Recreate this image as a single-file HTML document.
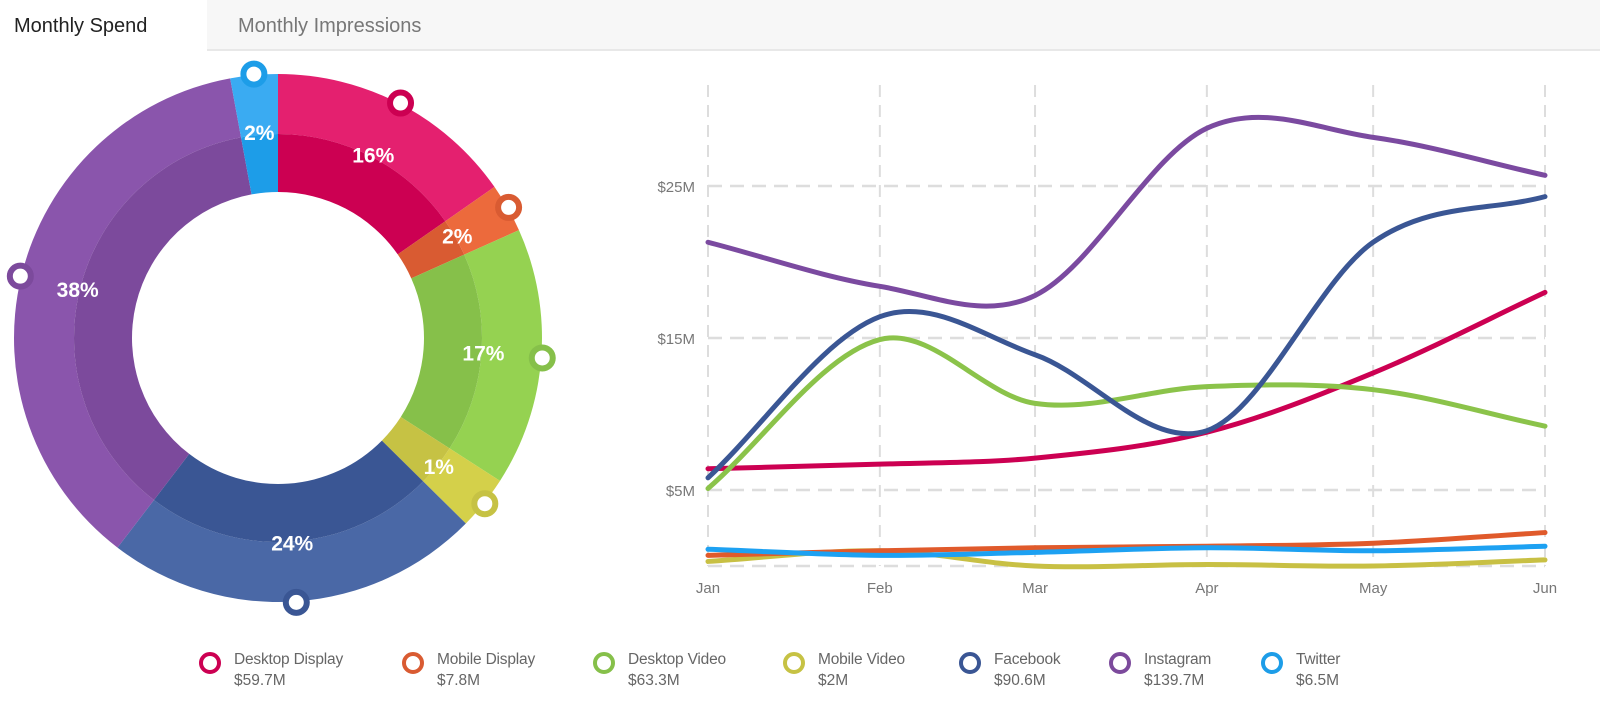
<!DOCTYPE html>
<html><head><meta charset="utf-8">
<style>
body{margin:0;width:1600px;height:728px;background:#fff;font-family:"Liberation Sans",sans-serif;overflow:hidden;position:relative}
.tabs{position:absolute;left:0;top:0;width:1600px;height:51px;background:#f7f7f7;border-bottom:2px solid #e8e8e8;box-sizing:border-box}
.tab{position:absolute;top:0;height:51px;line-height:52px;font-size:20px}
.legend{position:absolute;top:650px;left:0}
.li{position:absolute;top:0;white-space:nowrap}
.li .dot{position:absolute;left:-11px;top:2px;width:14px;height:14px;border-radius:50%;border:4px solid}
.li .nm{position:absolute;left:24px;top:1px;font-size:15.5px;color:#666;letter-spacing:-0.2px}
.li .vl{position:absolute;left:24px;top:22px;font-size:15.5px;color:#666}
</style></head><body>
<div class="tabs">
 <div class="tab" style="left:0;width:207px;background:#fff;color:#222;padding-left:14px;box-sizing:border-box;height:53px">Monthly Spend</div>
 <div class="tab" style="left:238px;color:#777">Monthly Impressions</div>
</div>
<svg id="donut" width="600" height="640" style="position:absolute;left:0;top:0"></svg>
<svg id="line" width="1600" height="640" style="position:absolute;left:0;top:0"></svg>
<div class="legend" id="legend"></div>
<script>
const names=["Desktop Display","Mobile Display","Desktop Video","Mobile Video","Facebook","Instagram","Twitter"];
const totalLabels=["$59.7M","$7.8M","$63.3M","$2M","$90.6M","$139.7M","$6.5M"];
const sliceShares=[15.3,3,15.8,3.3,23,36.7,2.9];
const pctLabels=["16%","2%","17%","1%","24%","38%","2%"];
const months=["Jan","Feb","Mar","Apr","May","Jun"];
const monthDays=[0,31,59,90,120,151];
const yTicks=[5,15,25];
const sDD=[6.4,6.7,7.1,8.8,12.7,18.0];
const sMD=[0.7,1.0,1.2,1.3,1.5,2.2];
const sDV=[5.1,14.9,10.7,11.8,11.6,9.2];
const sMV=[0.3,1.0,0.0,0.1,0.0,0.4];
const sFB=[5.8,16.4,13.9,8.9,21.3,24.3];
const sIG=[21.3,18.4,17.8,28.8,28.2,25.7];
const sTW=[1.1,0.7,0.9,1.2,1.0,1.3];
const series=[sDD,sMD,sDV,sMV,sFB,sIG,sTW];
const outerC=["#e4206f","#ec6a3c","#95d251","#d4d04a","#4a68a6","#8a55ac","#3aabf2"];
const innerC=["#cc0052","#d95b32","#86c04a","#c6c244","#3a5694","#7c4a9c","#1d9de8"];
const lineC=["#cc0052","#e05a2b","#8bc34a","#c8c044","#3a5694","#7b4aa0","#1da1f2"];
const NS="http://www.w3.org/2000/svg";
function mk(p,t,a){const e=document.createElementNS(NS,t);for(const k in a)e.setAttribute(k,a[k]);p.appendChild(e);return e;}
const d=document.getElementById('donut');
const cx=278,cy=338,R0=146,R1=204,R2=264;
const sum=sliceShares.reduce((a,b)=>a+b,0);
function pt(r,a){return [cx+r*Math.sin(a),cy-r*Math.cos(a)];}
function arc(r1,r2,a0,a1){const l=a1-a0>Math.PI?1:0;const p1=pt(r2,a0),p2=pt(r2,a1),p3=pt(r1,a1),p4=pt(r1,a0);
return `M${p1}A${r2},${r2} 0 ${l} 1 ${p2}L${p3}A${r1},${r1} 0 ${l} 0 ${p4}Z`;}
let acc=0;const mids=[];
sliceShares.forEach((v,i)=>{const a0=acc/sum*2*Math.PI;acc+=v;const a1=acc/sum*2*Math.PI;
 const o=mk(d,'path',{d:arc(R1,R2,a0,a1),fill:outerC[i]});
 
 
 const n=mk(d,'path',{d:arc(R0,R1,a0,a1),fill:innerC[i]});
 
 
 mids.push((a0+a1)/2);});
sliceShares.forEach((v,i)=>{const [x,y]=pt(206,mids[i]);
 const t=mk(d,'text',{x:x,y:y+7,'text-anchor':'middle','font-size':21,'font-weight':'bold',fill:'#fff','font-family':'Liberation Sans, sans-serif'});
 t.textContent=pctLabels[i];
 
 
 const [mx,my]=pt(265,mids[i]);
 const c=mk(d,'circle',{cx:mx,cy:my,r:10.5,fill:'#fff',stroke:innerC[i],'stroke-width':6});
 
 
});
const s=document.getElementById('line');
const X=dd=>708+dd*(837/151);
const Y=v=>566-v*15.2;
monthDays.forEach((m,i)=>{const g=mk(s,'line',{x1:X(m),x2:X(m),y1:85,y2:566,stroke:'#ddd','stroke-width':2,'stroke-dasharray':'12,8'});
 
 
 const t=mk(s,'text',{x:X(m),y:593,'text-anchor':'middle','font-size':15,fill:'#777'});t.textContent=months[i];
 
 });
[0].concat(yTicks).forEach(v=>{const g=mk(s,'line',{x1:708,x2:1545,y1:Y(v),y2:Y(v),stroke:'#ddd','stroke-width':2.5,'stroke-dasharray':'14,8'});
 
 });
yTicks.forEach(v=>{const t=mk(s,'text',{x:695,y:Y(v)+6,'text-anchor':'end','font-size':15,fill:'#777'});t.textContent='$'+v+'M';
 
 });
function smooth(pts){let p=`M${pts[0][0]},${pts[0][1]}`;
 const n=pts.length;const m=[];
 for(let i=0;i<n;i++){const a=pts[Math.max(0,i-1)],b=pts[Math.min(n-1,i+1)];m.push((b[1]-a[1])/(b[0]-a[0]));}
 for(let i=0;i<n-1;i++){const a=pts[i],b=pts[i+1],h=(b[0]-a[0])/3;
  p+=`C${a[0]+h},${a[1]+m[i]*h} ${b[0]-h},${b[1]-m[i+1]*h} ${b[0]},${b[1]}`;}return p;}
const order=[3,1,6,0,2,4,5];
order.forEach(i=>{const pts=series[i].map((v,j)=>[X(monthDays[j]),Y(v)]);
 const l=mk(s,'path',{d:smooth(pts),fill:'none',stroke:lineC[i],'stroke-width':5,'stroke-linecap':'round'});
 
 });
const lg=document.getElementById('legend');
const lx=[210,413,604,794,970,1120,1272];
names.forEach((n,i)=>{const e=document.createElement('div');e.className='li';e.style.left=lx[i]+'px';
 
 
 e.innerHTML=`<div class="dot" style="border-color:${innerC[i]}"></div><div class="nm">${n}</div><div class="vl">${totalLabels[i]}</div>`;
 lg.appendChild(e);});
</script>
</body></html>
